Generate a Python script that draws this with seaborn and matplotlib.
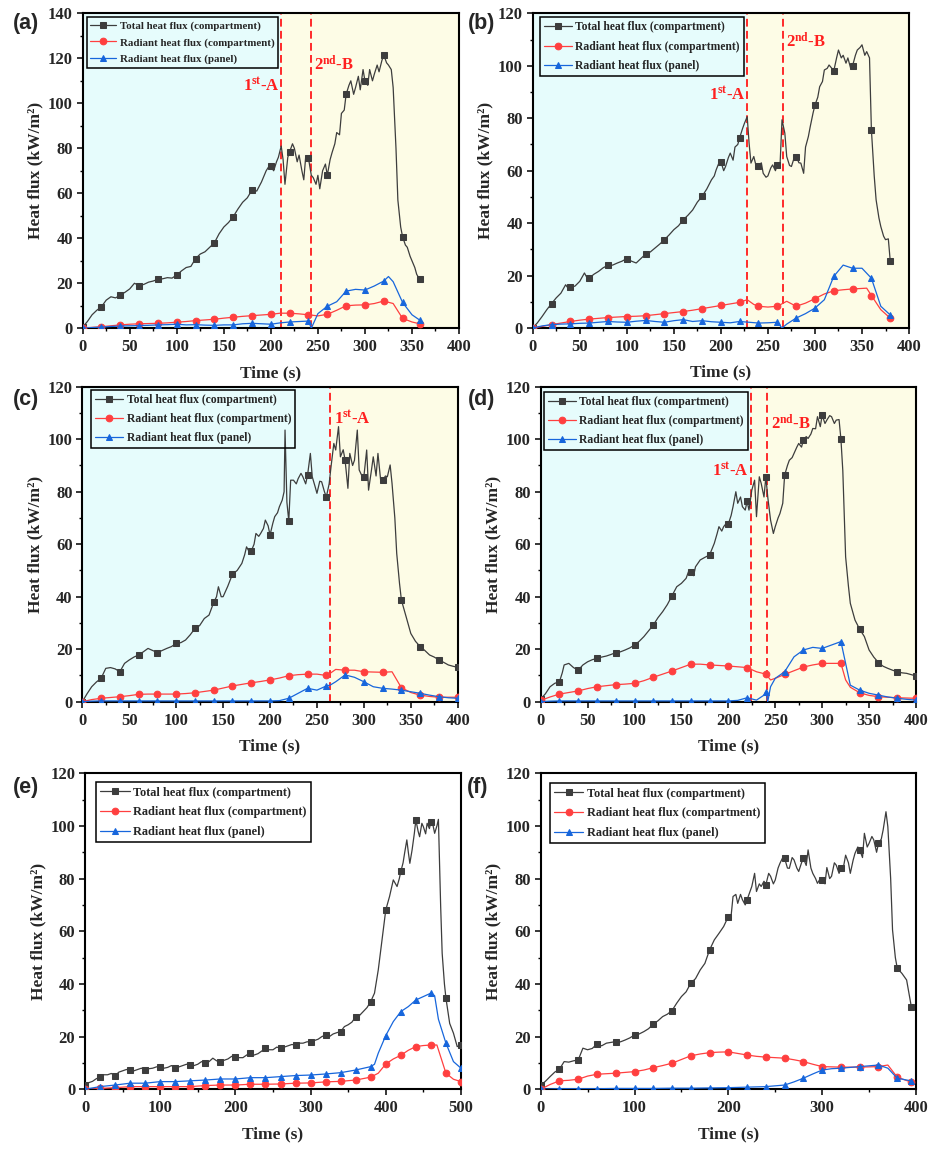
import numpy as np
import pandas as pd
import seaborn as sns
import matplotlib
matplotlib.use("Agg")
import matplotlib.pyplot as plt

# ---------------- data ----------------
# (a)
a_tot_t = [0,5,10,15,20,25,30,35,40,45,50,55,60,65,70,75,80,85,90,95,100,105,110,115,120,125,130,135,140,145,150,155,160,165,170,175,180,185,190,195,198,200,203,206,208,211,213,215,218,220,223,225,228,230,233,235,237,240,243,245,248,250,252,255,258,260,263,265,268,270,273,275,278,280,283,285,288,290,293,295,298,300,303,305,308,310,313,315,318,320,323,325,328,330,333,335,338,340,343,345,348,350,353,355,358]
a_tot_v = [0.5,3,6,8,9.6,12.5,14,13.5,14.8,16,17.5,20,19,19.5,20.5,21,21.8,22,22.5,22.3,23.7,25.5,27,27.5,31,33,34,36,38,42,45,47,49.6,53,56,58,61.5,61,65,70,72,72,70,74,76,81,75,64,76,78.5,82,80,74,77,70,66,76,75.5,68,67,64,68,62,70,73,68,75,78,82,87,86,95.5,97,104,108,110,104,107,112,106,115,110,108,115,110,113,117,114,119,121.5,118,117,115,107,80,57,45,40.7,37,36,32,30,27,24,21.8]
a_red_t = [0,10,20,30,40,50,60,70,80,90,100,110,120,130,140,150,160,170,180,190,200,210,220,230,240,250,260,270,280,290,300,310,320,330,340,350,358]
a_red_v = [0,0.4,0.7,1.1,1.5,1.8,2,2.1,2.2,2.4,2.7,3,3.4,3.7,4,4.5,4.9,5.3,5.6,5.9,6.2,6.7,6.7,6.4,6,5.5,6.2,8,10,10.3,10.4,11,12.1,11,4.4,2.8,2]
a_blu_t = [0,10,20,30,40,50,60,70,80,90,100,110,120,130,140,150,160,170,180,190,200,210,220,230,240,243,250,260,270,280,290,300,310,320,325,330,340,350,358]
a_blu_v = [0,0.3,0.5,0.8,1,1.1,1.2,1.3,1.5,1.6,1.8,1.5,1.6,1.4,1.3,1.5,1.5,2,2.2,2,1.8,2.4,2.8,3,3.2,0,6.5,9.8,11.8,16.5,17.3,17,18.8,21,23,20.7,11.5,6,3.7]

# (b)
b_tot_t = [0,5,10,15,20,25,30,35,38,40,45,50,55,58,60,65,70,75,80,85,90,95,100,105,110,115,120,125,130,135,140,145,150,155,160,165,170,175,180,185,190,193,195,198,200,203,205,208,210,213,215,218,220,223,225,228,230,232,235,238,240,243,245,248,250,253,255,258,260,263,265,268,270,273,275,278,280,283,285,288,290,293,295,298,300,303,305,308,310,313,315,318,320,323,325,328,330,333,335,338,340,343,345,348,350,353,355,358,360,363,365,368,370,373,375,378,380]
b_tot_v = [0,2,4.4,7,9.3,11.5,13.3,16.5,15,15.5,16,17.8,21,19,19,20.5,21.6,23,23.9,24,24.8,25.5,26.5,25.5,24.8,26.5,28.2,29,30.5,32,33.7,35.5,37.5,39,41.3,43,45,48,50.2,53,56.5,58,60.3,63,63.5,60,61.6,65,66.7,64,69,70,72.6,76,78,80.6,70.5,62.9,65.4,61,61.6,63,59,57.5,58,61,62.2,60,62.2,63,79.4,74.3,65.4,62,61.6,65,65.4,63,62.9,59,69,73,76.8,82,85,88,92,94,98.4,99,100.3,99,98,103,106,103,104,101,103,99,100,104,106,107,108,104,105.4,103,75.6,58,48.9,42,38.7,35,33.7,34,25.7]
b_red_t = [0,10,20,30,40,50,60,70,80,90,100,110,120,130,140,150,160,170,180,190,200,210,220,228,235,240,250,260,270,280,290,300,310,320,330,340,350,355,360,370,380]
b_red_v = [0,0.6,1.3,1.9,2.5,3,3.4,3.7,4,4.2,4.4,4.5,4.7,5.1,5.5,5.9,6.3,6.8,7.4,8,8.6,9.2,9.8,10.8,9,8.3,8,8.3,10.2,8.3,9.5,11.2,13,14.2,14.6,14.9,15.1,15.2,12.4,7,3.8]
b_blu_t = [0,10,20,30,40,50,60,70,80,90,100,110,120,130,140,150,160,170,180,190,200,210,220,230,240,250,260,265,270,280,290,300,310,320,330,340,350,360,370,380]
b_blu_v = [0,0.8,1.3,1.5,1.6,1.8,1.9,2.2,2.5,2.3,2.2,2.6,2.9,2.5,2.2,2.8,3.2,2.5,2.8,2.4,2.2,2,2.5,2.2,1.9,2,2.2,0,1.5,3.8,5.5,7.6,10.8,19.7,24,22.8,22.8,19,8.3,5]

# (c)
c_tot_t = [0,5,10,15,20,25,30,35,40,45,50,55,60,65,70,75,80,85,90,95,100,105,110,115,120,125,130,135,140,143,145,148,150,155,160,165,170,173,175,178,180,183,185,188,190,193,195,198,200,203,205,208,210,213,215,216,218,220,222,225,228,230,233,235,238,240,243,245,248,250,253,255,258,260,263,265,268,270,273,275,278,280,283,285,288,290,293,295,298,300,303,305,308,310,313,315,318,320,323,325,328,330,333,335,338,340,345,350,355,360,365,370,375,380,385,390,395,400]
c_tot_v = [0,3,5.7,7.5,8.9,12.7,13,12.5,11.4,14.6,15.9,17,17.8,19,20.3,19.5,18.7,19.5,20.3,21,22.2,22.5,23.5,25.5,27.9,29,31.7,33,37.8,40,43.8,40,40,44,48.6,50,52.7,56,59,57,57.4,60,64.1,63,64.1,66,69.2,67,63.5,68,70.5,72,74.3,76.8,80,103.5,76,68.8,84.4,84.4,83,85,87,85.7,83,86.3,94.6,85.7,82,79.4,84,83.8,80,78,83,89.5,98.4,95.9,104.8,93.3,96,92,81.3,94.6,90,92,103.5,88.3,86,85.7,95.9,80.6,88,93.3,86,94.6,84,84.4,86,85.7,90.2,83.2,70,56.5,45,38.7,32.4,26,23,21,19.5,17.8,17,15.9,15,14,13.5,13.1]
c_red_t = [0,10,20,30,40,50,60,70,80,90,100,110,120,130,140,150,160,170,180,190,200,210,220,230,240,250,260,264,270,280,290,300,310,320,330,340,350,360,370,380,390,400]
c_red_v = [0,0.8,1.3,1.6,1.9,2.3,2.8,2.9,2.9,2.9,2.9,3.1,3.4,3.9,4.4,5.2,6,6.6,7.2,7.7,8.3,9,9.9,10.3,10.5,10.5,10,10.8,12.3,12,12,11.4,11.3,11.2,11.4,5.3,3.5,2.5,2,1.7,1.7,1.7]
c_blu_t = [0,10,20,40,60,80,100,120,140,160,180,200,210,220,230,240,250,260,264,270,280,290,300,310,320,330,340,350,360,370,380,390,400]
c_blu_v = [0,0.2,0.3,0.3,0.3,0.3,0.3,0.3,0.3,0.3,0.3,0.3,0.4,1.3,3.2,5.1,4.4,6,6.3,7.6,10.2,9.3,7.6,5.7,5.1,4.8,4.4,3.8,3.2,2.5,1.9,1.5,1.3]

# (d)
d_tot_t = [0,5,10,15,20,23,25,30,35,40,45,50,55,60,65,70,75,80,85,90,95,100,105,110,115,120,125,130,135,140,145,150,155,158,160,163,165,170,175,180,185,188,190,193,195,198,200,203,205,208,210,213,215,218,220,222,225,228,230,233,235,238,240,242,245,248,250,253,255,258,260,263,265,268,270,273,275,278,280,283,285,288,290,293,295,298,300,303,305,308,310,313,315,318,320,322,325,328,330,335,340,345,350,355,360,365,370,375,380,385,390,395,400]
d_tot_v = [1,3,5.7,7,7.6,11,14,14.6,13,12,14,15.2,16,16.5,17,17.4,18,18.7,19,19.7,20.5,21.6,23,24.8,27,29.2,32,34.3,37,40.4,43.8,45.1,47,50,49.5,48,51.4,54,55,55.9,60.3,64,66.7,65,66.7,68,67.7,71,74.3,80,75.6,78,74.3,73,76.4,73,80.6,84.4,70.5,85.7,83.2,78,85.7,78,69.2,64.1,66.7,70,71.7,75.6,86.3,90,92,93,94.6,97,98.4,97,99.7,101,100.3,102,104.1,104,108.6,104.8,109.2,106,107.3,109,108.6,106,107.3,107.5,100,88,55.2,44,37.5,31.1,27.6,24.8,19.7,17,14.9,13.5,12.7,12,11.4,11,10.8,10.3,9.8]
d_red_t = [0,10,20,30,40,50,60,70,80,90,100,110,120,130,140,150,160,170,180,190,200,210,220,230,240,245,250,260,270,280,290,300,310,320,325,330,340,350,360,370,380,390,400]
d_red_v = [0.5,1.8,2.9,3.5,4.1,5,5.7,6.1,6.5,6.7,7,8,9.3,10.5,11.7,13,14.3,14.3,14,13.8,13.6,13.3,13,11.4,10.5,8.3,8.9,10.4,11.8,13.2,14,14.6,14.6,14.6,8.3,5.5,3.4,2.4,1.9,1.7,1.5,1.4,1.3]
d_blu_t = [0,10,20,40,60,80,100,120,140,160,180,200,210,220,230,238,240,242,245,250,260,270,280,290,300,310,320,325,330,340,350,360,370,380,390,400]
d_blu_v = [0,0.2,0.3,0.3,0.3,0.3,0.3,0.3,0.3,0.3,0.3,0.3,0.5,1.5,0.6,2.5,3.8,0,5.7,8.9,11.4,17.1,19.7,20.7,20.3,21.6,22.9,14.6,6.3,4.4,3.2,2.5,1.8,1.3,0.9,0.6]

# (e)
e_tot_t = [0,5,10,15,20,25,30,35,40,45,50,55,60,65,70,75,80,85,90,95,100,105,110,115,120,125,130,135,140,145,150,155,160,165,170,175,180,185,190,195,200,205,210,215,220,225,230,235,240,245,250,255,260,265,270,275,280,285,290,295,300,305,310,315,320,325,330,335,340,345,350,355,360,365,370,375,380,385,390,395,400,405,410,413,415,418,420,423,425,428,430,432,435,438,440,443,445,448,450,453,455,458,460,463,465,468,470,473,475,478,480,485,490,495,500]
e_tot_v = [1.5,2.5,3,4,4.6,5.5,5.5,6,5.1,6.5,7,7.5,7.3,7,7.5,8,7.2,7.8,8,8.5,8.6,8,8.3,9,8,8.5,9,9.5,9.2,9,9.5,10.5,9.9,10.5,11.8,10.8,10.5,11,11.5,12.5,12.4,12,12,13,13.7,13,13.5,14.5,15.6,15,15,16,15.6,16,16.5,17,16.8,17.5,17.5,18,18.1,18.5,19,20,20.6,20,21,21.5,21.9,23.8,24.5,25.5,27.6,28,29.5,31,33.3,36.5,45.3,56.7,68.1,73.2,79.5,78,77,80,82.7,86,89.6,94.7,90,85.8,90.9,97.2,102.3,98,95.9,101,99.7,97,101,99,101.6,100,97.2,100,102.5,69.4,51.6,40,34.6,25,21.3,16.2,16.8]
e_red_t = [0,20,40,60,80,100,120,140,160,180,200,220,240,260,280,300,320,340,360,380,390,400,410,420,430,440,450,460,468,480,490,500]
e_red_v = [0,0.3,0.6,1,1,1,1,1,1.4,1.6,1.6,1.9,1.9,2,2.3,2.4,2.8,3,3.5,4.6,6.1,9.6,11.5,12.9,14.8,16.2,16.6,16.8,16.8,6.1,3.8,2.9]
e_blu_t = [0,20,40,60,80,100,120,140,160,180,200,220,240,260,280,300,320,340,360,380,385,390,400,410,420,430,440,450,460,465,470,480,490,500]
e_blu_v = [0,1,1.6,2.3,2.3,2.9,2.9,3.2,3.5,3.9,3.9,4.4,4.4,4.8,5.2,5.4,5.8,6.3,7.3,8.6,9.5,13.7,20.4,25.7,29.5,31.4,33.9,35.2,36.5,35.5,26.6,17.5,10.5,8]

# (f)
f_tot_t = [0,5,10,15,20,25,30,35,40,45,50,55,60,65,70,75,80,85,90,95,100,105,110,115,120,125,130,135,140,145,150,155,160,165,170,175,180,185,190,195,200,203,205,208,210,213,215,218,220,223,225,228,230,233,235,238,240,243,245,248,250,253,255,258,260,263,265,268,270,273,275,278,280,283,285,288,290,293,295,298,300,303,305,308,310,313,315,318,320,323,325,328,330,333,335,338,340,343,345,348,350,353,355,358,360,363,365,368,370,373,375,378,380,385,390,395]
f_tot_v = [1.5,3,4.8,6.5,7.6,10.5,10.3,10.8,11.1,15.6,15,15.5,17.2,16.5,17.5,17.8,18.1,18,18.7,19.5,20.6,21,21.9,23,24.8,26,27.6,28.5,29.9,32.7,35.2,37,40.3,42,45.3,47.8,52.9,56.7,59.2,61.8,65.6,66,73.2,74,70.6,74,72,70,72,75,77,82,75.1,78,77,79,77.7,82,80.9,78,79.5,84,85.8,88,87.7,84,83.9,88,87.1,84,82.7,86,87.7,85,90.9,84,82,80,78.2,80,79.5,78,84.2,80,80.9,86,85.1,82,83.9,85,88.9,86,82,87,89.6,92,90.9,88,97.2,92,93.4,96,94.7,90,93.4,95,98.5,105.4,99.7,80,60.5,50,46,44,41.5,31.4]
f_red_t = [0,10,20,30,40,50,60,70,80,90,100,110,120,130,140,150,160,170,180,190,200,210,220,230,240,250,260,270,280,290,300,310,320,330,340,350,360,370,380,390,395]
f_red_v = [0,1.8,3.2,3.4,3.8,5,5.7,5.9,6.1,6.4,6.7,7.3,8.2,9,9.9,11.3,12.7,13.4,13.9,14.1,14.2,13.6,13,12.5,12.2,12,11.8,11.2,10.5,9.5,8.6,8.5,8.4,8.4,8.4,8.5,8.6,9.2,4.6,3.3,2.9]
f_blu_t = [0,20,40,60,80,100,120,140,160,180,200,220,240,250,260,270,280,290,300,310,320,330,340,350,360,370,380,390,395]
f_blu_v = [0,0.2,0.2,0.2,0.3,0.3,0.3,0.4,0.4,0.5,0.6,0.8,1,1.3,1.6,2.8,4.2,5.8,7.3,7.8,8,8.3,8.6,8.9,9.2,8,4.2,3.5,3.2]

series_labels = ["Total heat flux (compartment)", "Radiant heat flux (compartment)", "Radiant heat flux (panel)"]

# event lines / shading per panel
a_events = [211, 243]
b_events = [228, 266]
c_events = [264]
d_events = [224, 241]

# ---------------- style ----------------
sns.set_theme(style="ticks")
plt.rcParams["font.family"] = ["Liberation Serif", "DejaVu Serif"]
plt.rcParams["font.weight"] = "bold"
plt.rcParams["axes.labelweight"] = "bold"
plt.rcParams["mathtext.fontset"] = "custom"
plt.rcParams["mathtext.rm"] = "Liberation Serif:bold"
plt.rcParams["mathtext.bf"] = "Liberation Serif:bold"
plt.rcParams["mathtext.it"] = "Liberation Serif:bold:italic"

GRAY = "#3d3d3d"
RED = "#ff3f3f"
BLUE = "#1766dc"
CYAN = "#e6fcfc"
YELLOW = "#fdfce6"

fig = plt.figure(figsize=(9.29, 11.49), dpi=100)

panels = [
    dict(key="(a)", rect=[0.0890, 0.7143, 0.4051, 0.2741], xmax=400, xstep=50, ymax=140,
         tot=(a_tot_t, a_tot_v), red=(a_red_t, a_red_v), blu=(a_blu_t, a_blu_v), ev=a_events,
         ann=[("1$^{\\mathrm{st}}$-A", 209, 108, "right"), ("2$^{\\mathrm{nd}}$-B", 246, 117, "left")],
         lab=(26, 23), leg=(4, 4), lfs=7.8),
    dict(key="(b)", rect=[0.5734, 0.7145, 0.4051, 0.2739], xmax=400, xstep=50, ymax=120,
         tot=(b_tot_t, b_tot_v), red=(b_red_t, b_red_v), blu=(b_blu_t, b_blu_v), ev=b_events,
         ann=[("1$^{\\mathrm{st}}$-A", 226, 89, "right"), ("2$^{\\mathrm{nd}}$-B", 269, 109, "left")],
         lab=(482, 23), leg=(7, 4), lfs=8.4),
    dict(key="(c)", rect=[0.0886, 0.3893, 0.4041, 0.2741], xmax=400, xstep=50, ymax=120,
         tot=(c_tot_t, c_tot_v), red=(c_red_t, c_red_v), blu=(c_blu_t, c_blu_v), ev=c_events,
         ann=[("1$^{\\mathrm{st}}$-A", 268, 108, "left")],
         lab=(26, 400), leg=(9, 3), lfs=8.4),
    dict(key="(d)", rect=[0.5820, 0.3893, 0.4040, 0.2741], xmax=400, xstep=50, ymax=120,
         tot=(d_tot_t, d_tot_v), red=(d_red_t, d_red_v), blu=(d_blu_t, d_blu_v), ev=d_events,
         ann=[("1$^{\\mathrm{st}}$-A", 222, 88, "right"), ("2$^{\\mathrm{nd}}$-B", 245, 106, "left")],
         lab=(482, 400), leg=(3, 5), lfs=8.4),
    dict(key="(e)", rect=[0.0915, 0.0520, 0.4047, 0.2750], xmax=500, xstep=100, ymax=120,
         tot=(e_tot_t, e_tot_v), red=(e_red_t, e_red_v), blu=(e_blu_t, e_blu_v), ev=[],
         ann=[], lab=(26, 787), leg=(11, 9), lfs=8.85),
    dict(key="(f)", rect=[0.5820, 0.0520, 0.4040, 0.2750], xmax=400, xstep=100, ymax=120,
         tot=(f_tot_t, f_tot_v), red=(f_red_t, f_red_v), blu=(f_blu_t, f_blu_v), ev=[],
         ann=[], lab=(478, 787), leg=(9, 10), lfs=8.85),
]

W, H = 929, 1149

def marks(ts):
    idx = [i for i, t in enumerate(ts) if t % 20 == 0]
    if idx[-1] != len(ts) - 1:
        idx.append(len(ts) - 1)
    return idx

for p in panels:
    ax = fig.add_axes(p["rect"])
    xmax, ymax = p["xmax"], p["ymax"]
    axw = p["rect"][2] * W
    axh = p["rect"][3] * H
    # background shading
    if p["ev"]:
        ax.axvspan(0, p["ev"][0], color=CYAN, zorder=0, lw=0)
        ax.axvspan(p["ev"][0], xmax, color=YELLOW, zorder=0, lw=0)
        for x in p["ev"]:
            ax.axvline(x, color="#ff2a2a", lw=1.4, ls=(0, (4, 2.2)), zorder=1)
    specs = [(p["tot"], GRAY, "s", series_labels[0]),
             (p["red"], RED, "o", series_labels[1]),
             (p["blu"], BLUE, "^", series_labels[2])]
    handles = []
    for (ts, vs), col, mk, lab in specs:
        df = pd.DataFrame({"t": ts, "v": vs})
        sns.lineplot(data=df, x="t", y="v", ax=ax, color=col, lw=0.9,
                     marker=mk, markersize=4.8, markeredgecolor=col, markerfacecolor=col,
                     markevery=marks(ts), estimator=None, sort=False, zorder=3)
        handles.append(ax.lines[-1])
    dx, dy = p["leg"]
    leg = ax.legend(handles, series_labels, loc="upper left",
                    bbox_to_anchor=(dx / axw, 1 - dy / axh),
                    frameon=True, fancybox=False, framealpha=1, facecolor="none",
                    edgecolor="black", handlelength=2.4, handletextpad=0.3,
                    labelspacing=0.62, borderpad=0.35, borderaxespad=0.0,
                    prop={"weight": "bold", "size": p["lfs"]})
    leg.get_frame().set_linewidth(1.1)
    for txt, x, y, ha in p["ann"]:
        ax.text(x, y, txt, color="#ff1f1f", fontsize=12, fontweight="bold",
                ha=ha, va="center", zorder=4)
    ax.set_xlim(0, xmax)
    ax.set_ylim(0, ymax)
    ax.set_xticks(np.arange(0, xmax + 1, p["xstep"]))
    ax.set_xticks(np.arange(0, xmax + 1, p["xstep"] / 2), minor=True)
    ax.set_yticks(np.arange(0, ymax + 1, 20))
    ax.set_yticks(np.arange(0, ymax + 1, 10), minor=True)
    ax.tick_params(axis="both", which="major", direction="out", length=4, width=1.1,
                   labelsize=12, color="black")
    ax.tick_params(axis="x", which="major", pad=4)
    ax.tick_params(axis="y", which="major", pad=3)
    ax.tick_params(axis="both", which="minor", direction="out", length=2.5, width=1.0,
                   color="black")
    for lbl in ax.get_xticklabels() + ax.get_yticklabels():
        lbl.set_fontweight("bold")
    for s in ax.spines.values():
        s.set_linewidth(1.5)
        s.set_color("black")
    ax.set_xlabel("Time (s)", fontsize=12.5, fontweight="bold", labelpad=7)
    ax.set_ylabel("Heat flux (kW/m²)", fontsize=12.5, fontweight="bold", labelpad=3)
    lx, ly = p["lab"]
    fig.text(lx / W, 1 - ly / H, p["key"], fontsize=15.5, fontweight="bold",
             family=["Liberation Sans", "DejaVu Sans"], ha="center", va="center")

fig.savefig("out.png", dpi=100)
